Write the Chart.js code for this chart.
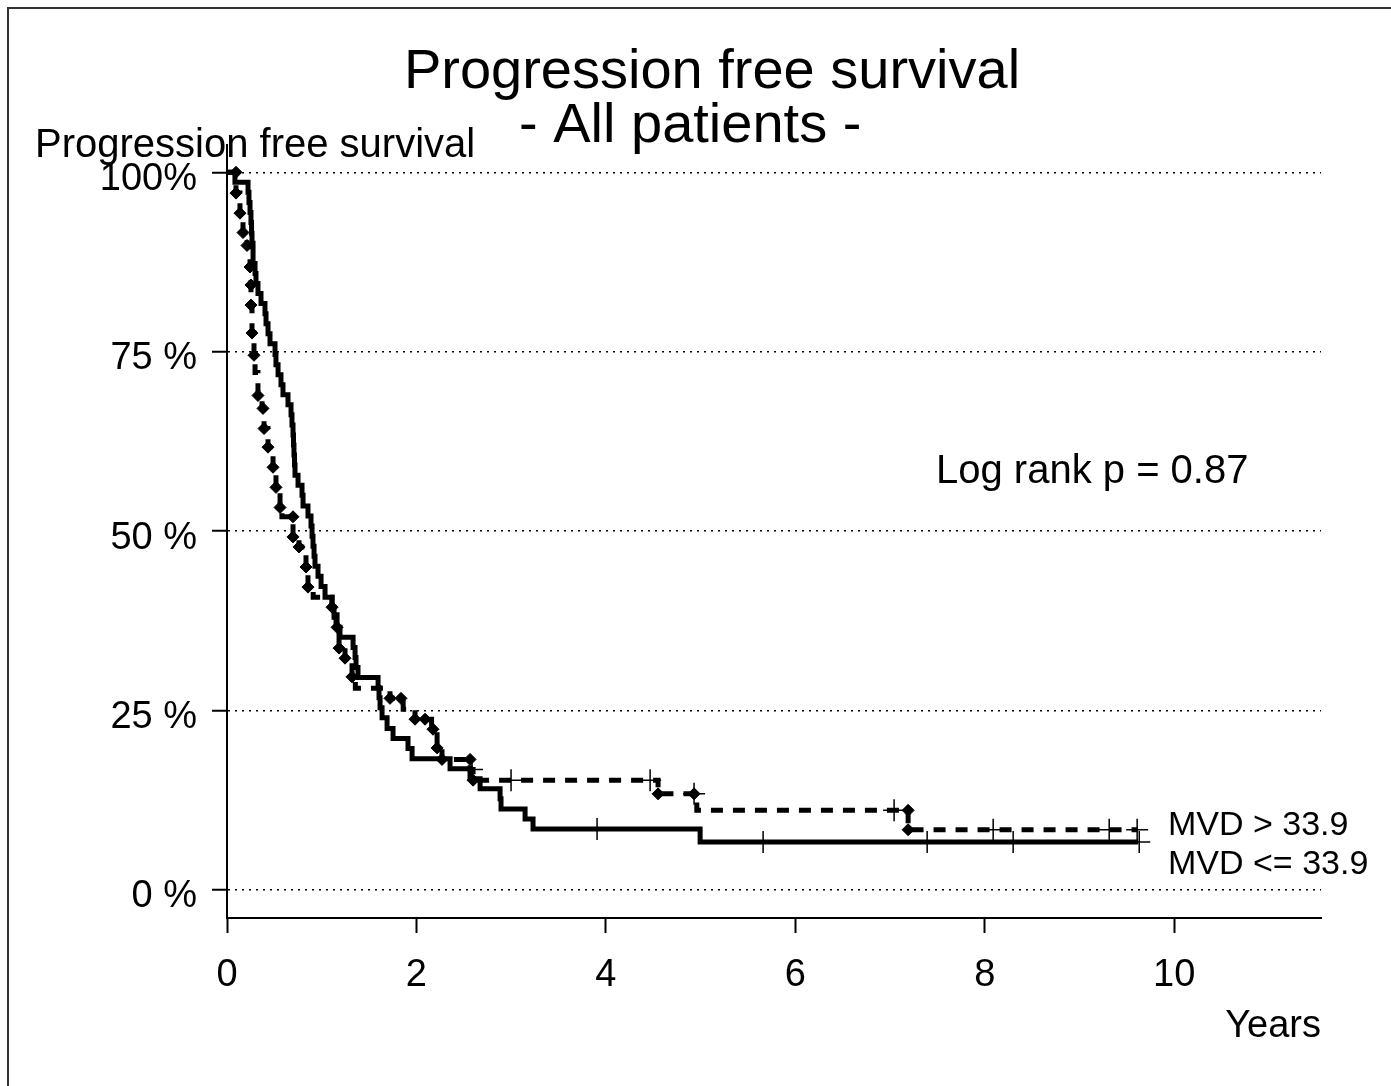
<!DOCTYPE html>
<html lang="en">
<head>
    <meta charset="UTF-8">
    <title>Progression free survival - All patients</title>
    <script src="https://cdn.jsdelivr.net/npm/chart.js"></script>
    <style>
        body {
            margin: 0;
            background: #fff;
        }
        #chart-container {
            width: 1391px;
            height: 1086px;
        }
    </style>
</head>
<body>
    <div id="chart-container">
        <canvas id="pfsChart" width="1391" height="1086"></canvas>
    </div>

    <script>
    // Kaplan-Meier steps (years, % progression free)
    const lowTime = [0, 0.084, 0.222, 0.232, 0.243, 0.253, 0.259, 0.264, 0.275, 0.275, 0.296, 0.306, 0.327, 0.359, 0.401, 0.412, 0.433, 0.454, 0.507, 0.517, 0.539, 0.570, 0.591, 0.644, 0.676, 0.686, 0.697, 0.702, 0.707, 0.713, 0.718, 0.750, 0.792, 0.803, 0.855, 0.887, 0.898, 0.908, 0.919, 0.929, 0.961, 0.993, 1.035, 1.109, 1.130, 1.151, 1.193, 1.331, 1.352, 1.362, 1.383, 1.595, 1.605, 1.616, 1.637, 1.690, 1.753, 1.911, 1.954, 2.355, 2.566, 2.672, 2.883, 2.893, 3.147, 3.231, 4.995, 9.620];
    const lowSurv = [100, 98.6, 97.2, 95.8, 94.4, 93.0, 91.5, 90.1, 88.7, 87.3, 85.9, 84.5, 83.1, 81.7, 80.3, 78.9, 77.5, 76.1, 74.6, 73.2, 71.8, 70.4, 69.0, 67.6, 66.2, 64.8, 63.4, 62.0, 60.6, 59.2, 57.8, 56.4, 55.0, 53.5, 52.1, 50.7, 49.3, 47.9, 46.5, 45.1, 43.7, 42.3, 40.8, 39.4, 38.0, 36.6, 35.2, 33.8, 32.4, 31.0, 29.6, 28.2, 26.8, 25.4, 24.0, 22.5, 21.1, 19.7, 18.3, 16.9, 15.5, 14.1, 12.7, 11.3, 9.9, 8.5, 6.7, 6.7];
    const lowCensTime = [3.907, 5.660, 7.392, 8.300, 9.631];
    const lowCensSurv = [8.5, 6.7, 6.7, 6.7, 6.7];

    const highTime = [0, 0.095, 0.137, 0.169, 0.211, 0.243, 0.250, 0.253, 0.264, 0.285, 0.296, 0.327, 0.370, 0.391, 0.433, 0.486, 0.517, 0.560, 0.580, 0.697, 0.760, 0.834, 0.855, 0.910, 1.109, 1.162, 1.183, 1.246, 1.320, 1.355, 1.721, 1.860, 1.985, 2.160, 2.218, 2.270, 2.566, 2.598, 4.551, 4.960, 7.191, 9.610];
    const highSurv = [100, 97.1, 94.3, 91.6, 89.8, 86.8, 84.3, 81.5, 77.6, 74.5, 72.1, 68.9, 67.1, 64.3, 61.7, 58.9, 56.1, 53.3, 52.0, 49.2, 47.8, 45.0, 42.2, 40.8, 39.4, 36.6, 33.7, 32.3, 29.7, 28.1, 26.7, 25.2, 23.8, 22.4, 19.8, 18.2, 16.8, 15.3, 13.4, 11.1, 8.4, 8.4];
    const highMarkTime = [0.095, 0.095, 0.137, 0.169, 0.211, 0.243, 0.253, 0.253, 0.264, 0.285, 0.327, 0.380, 0.391, 0.433, 0.486, 0.517, 0.560, 0.697, 0.697, 0.760, 0.834, 0.855, 1.109, 1.162, 1.183, 1.246, 1.320, 1.721, 1.837, 1.985, 2.091, 2.175, 2.218, 2.270, 2.566, 2.598, 4.551, 4.931, 7.191, 7.191];
    const highMarkSurv = [100, 97.1, 94.3, 91.6, 89.8, 86.8, 84.3, 81.5, 77.6, 74.5, 68.9, 67.1, 64.3, 61.7, 58.9, 56.1, 53.3, 52.0, 49.2, 47.8, 45.0, 42.2, 39.4, 36.6, 33.7, 32.3, 29.7, 26.7, 26.7, 23.8, 23.8, 22.4, 19.8, 18.2, 18.2, 15.3, 13.4, 13.4, 11.1, 8.4];
    const highCensTime = [2.587, 2.999, 4.467, 4.931, 7.043, 8.089, 9.314, 9.609];
    const highCensSurv = [16.8, 15.3, 15.3, 13.4, 11.1, 8.4, 8.4, 8.4];

    const xTicks = [0, 2, 4, 6, 8, 10];
    const yTicks = [0, 25, 50, 75, 100];

    const FONT = '"Liberation Sans", Arial, sans-serif';
    const pts = (xs, ys) => xs.map((x, i) => ({ x: x, y: ys[i] }));

    // white page with the thin frame at top and left
    const framePlugin = {
        id: 'frame',
        beforeDraw(chart) {
            const ctx = chart.ctx;
            ctx.save();
            ctx.fillStyle = '#fff';
            ctx.fillRect(0, 0, chart.width, chart.height);
            ctx.strokeStyle = '#333';
            ctx.lineWidth = 2;
            ctx.beginPath();
            ctx.moveTo(8, chart.height);
            ctx.lineTo(8, 8);
            ctx.lineTo(chart.width, 8);
            ctx.stroke();
            ctx.restore();
        }
    };

    const textPlugin = {
        id: 'texts',
        afterDraw(chart) {
            const ctx = chart.ctx;
            ctx.save();
            ctx.fillStyle = '#000';
            ctx.textBaseline = 'alphabetic';
            ctx.font = '56px ' + FONT;
            ctx.textAlign = 'center';
            ctx.fillText('Progression free survival', 712, 88);
            ctx.textAlign = 'left';
            ctx.fillText('- All patients -', 519, 142);
            ctx.font = '40px ' + FONT;
            ctx.fillText('Progression free survival', 35, 157);
            ctx.fillText('Log rank p = 0.87', 936, 483);
            ctx.font = '34px ' + FONT;
            ctx.fillText('MVD > 33.9', 1168, 835);
            ctx.fillText('MVD <= 33.9', 1168, 874);
            ctx.font = '38px ' + FONT;
            ctx.textAlign = 'right';
            ctx.fillText('Years', 1321, 1037);
            ctx.restore();
        }
    };

    const ctx = document.getElementById('pfsChart').getContext('2d');

    new Chart(ctx, {
        type: 'line',
        data: {
            datasets: [
                {
                    label: 'MVD > 33.9 events',
                    data: pts(highMarkTime, highMarkSurv),
                    showLine: false,
                    pointStyle: 'rectRot',
                    pointRadius: 6,
                    pointBackgroundColor: '#000',
                    pointBorderColor: '#000',
                    pointBorderWidth: 1
                },
                {
                    label: 'MVD > 33.9 censored',
                    data: pts(highCensTime, highCensSurv),
                    showLine: false,
                    pointStyle: 'cross',
                    pointRadius: 11,
                    pointBorderColor: '#000',
                    pointBorderWidth: 1.5
                },
                {
                    label: 'MVD <= 33.9 censored',
                    data: pts(lowCensTime, lowCensSurv),
                    showLine: false,
                    pointStyle: 'cross',
                    pointRadius: 11,
                    pointBorderColor: '#000',
                    pointBorderWidth: 1.5
                },
                {
                    label: 'MVD > 33.9',
                    data: pts(highTime, highSurv),
                    stepped: 'before',
                    borderColor: '#000',
                    borderWidth: 5,
                    borderDash: [12, 10],
                    borderCapStyle: 'butt',
                    borderJoinStyle: 'miter',
                    pointRadius: 0,
                    fill: false
                },
                {
                    label: 'MVD <= 33.9',
                    data: pts(lowTime, lowSurv),
                    stepped: 'before',
                    borderColor: '#000',
                    borderWidth: 5,
                    borderCapStyle: 'butt',
                    borderJoinStyle: 'miter',
                    pointRadius: 0,
                    fill: false
                }
            ]
        },
        options: {
            responsive: false,
            animation: false,
            events: [],
            layout: {
                padding: { top: 145, right: 70, left: 0, bottom: 0 }
            },
            plugins: {
                legend: { display: false },
                tooltip: { enabled: false },
                title: { display: false }
            },
            scales: {
                x: {
                    type: 'linear',
                    min: 0,
                    max: 11.55,
                    afterBuildTicks: s => { s.ticks = xTicks.map(v => ({ value: v })); },
                    afterFit: s => { s.height = 168; },
                    ticks: {
                        font: { family: FONT, size: 38 },
                        color: '#000',
                        padding: 20,
                        maxRotation: 0,
                        autoSkip: false
                    },
                    grid: {
                        drawOnChartArea: false,
                        tickLength: 15,
                        tickWidth: 2,
                        tickColor: '#000'
                    },
                    border: { color: '#000', width: 2 }
                },
                y: {
                    type: 'linear',
                    min: -3.9,
                    max: 103.8,
                    afterBuildTicks: s => { s.ticks = yTicks.map(v => ({ value: v })); },
                    afterFit: s => { s.width = 227; },
                    ticks: {
                        callback: v => (v === 100 ? '100%' : v + ' %'),
                        font: { family: FONT, size: 38 },
                        color: '#000',
                        padding: 15,
                        labelOffset: 7,
                        autoSkip: false
                    },
                    grid: {
                        color: '#000',
                        lineWidth: 1.5,
                        tickLength: 15,
                        tickWidth: 2,
                        tickColor: '#000',
                        tickBorderDash: []
                    },
                    border: { color: '#000', width: 2, dash: [2, 5] }
                }
            }
        },
        plugins: [framePlugin, textPlugin]
    });
    </script>
</body>
</html>
